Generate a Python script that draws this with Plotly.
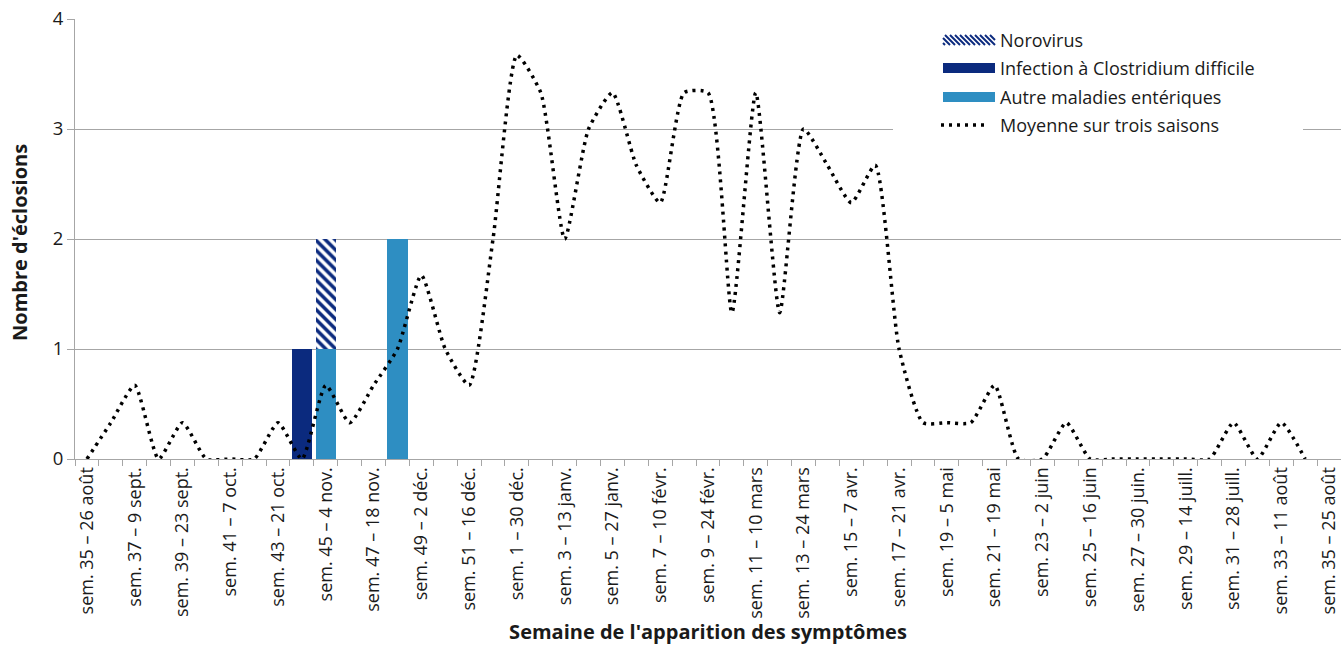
import plotly.graph_objects as go

# Week numbers (53 categories: sem. 35 → sem. 52, then sem. 1 → sem. 35)
weeks = [35, 36, 37, 38, 39, 40, 41, 42, 43, 44, 45, 46, 47, 48, 49, 50, 51, 52,
         1, 2, 3, 4, 5, 6, 7, 8, 9, 10, 11, 12, 13, 14, 15, 16, 17, 18, 19, 20,
         21, 22, 23, 24, 25, 26, 27, 28, 29, 30, 31, 32, 33, 34, 35]

# Visible tick labels (every other week)
tick_labels = ["sem. 35 – 26 août", "sem. 37 – 9 sept.", "sem. 39 – 23 sept.",
               "sem. 41 – 7 oct.", "sem. 43 – 21 oct.", "sem. 45 – 4 nov.",
               "sem. 47 – 18 nov.", "sem. 49 – 2 déc.", "sem. 51 – 16 déc.",
               "sem. 1 – 30 déc.", "sem. 3 – 13 janv.", "sem. 5 – 27 janv.",
               "sem. 7 – 10 févr.", "sem. 9 – 24 févr.", "sem. 11 – 10 mars",
               "sem. 13 – 24 mars", "sem. 15 – 7 avr.", "sem. 17 – 21 avr.",
               "sem. 19 – 5 mai", "sem. 21 – 19 mai", "sem. 23 – 2 juin",
               "sem. 25 – 16 juin", "sem. 27 – 30 juin.", "sem. 29 – 14 juill.",
               "sem. 31 – 28 juill.", "sem. 33 – 11 août", "sem. 35 – 25 août"]

norovirus = [0, 0, 0, 0, 0, 0, 0, 0, 0, 0, 1, 0, 0, 0, 0, 0, 0, 0,
             0, 0, 0, 0, 0, 0, 0, 0, 0, 0, 0, 0, 0, 0, 0, 0, 0, 0, 0, 0,
             0, 0, 0, 0, 0, 0, 0, 0, 0, 0, 0, 0, 0, 0, 0]
clostridium = [0, 0, 0, 0, 0, 0, 0, 0, 0, 1, 0, 0, 0, 0, 0, 0, 0, 0,
               0, 0, 0, 0, 0, 0, 0, 0, 0, 0, 0, 0, 0, 0, 0, 0, 0, 0, 0, 0,
               0, 0, 0, 0, 0, 0, 0, 0, 0, 0, 0, 0, 0, 0, 0]
autres = [0, 0, 0, 0, 0, 0, 0, 0, 0, 0, 1, 0, 0, 2, 0, 0, 0, 0,
          0, 0, 0, 0, 0, 0, 0, 0, 0, 0, 0, 0, 0, 0, 0, 0, 0, 0, 0, 0,
          0, 0, 0, 0, 0, 0, 0, 0, 0, 0, 0, 0, 0, 0, 0]
moyenne = [0, 0.33, 0.67, 0, 0.33, 0, 0, 0, 0.33, 0, 0.67, 0.33, 0.67, 1.0, 1.67,
           1.0, 0.67, 2.0, 3.67, 3.33, 2.0, 3.0, 3.33, 2.67, 2.33, 3.33, 3.33,
           1.33, 3.33, 1.33, 3.0, 2.67, 2.33, 2.67, 1.0, 0.33, 0.33, 0.33, 0.67,
           0, 0, 0.33, 0, 0, 0, 0, 0, 0, 0.33, 0, 0.33, 0, None]

series_names = ["Norovirus", "Infection à Clostridium difficile",
                "Autre maladies entériques", "Moyenne sur trois saisons"]

x = list(range(len(weeks)))
custom = [f"sem. {w}" for w in weeks]

FONT = "Open Sans"
TXT = "#1a1a1a"
NAVY = "#0B2A7E"
LIGHT = "#2E8EC2"
GRID = "#a6a6a6"
W, H = 1341, 645

fig = go.Figure()
fig.add_trace(go.Bar(x=x, y=autres, name=series_names[2],
                     marker=dict(color=LIGHT, line=dict(width=0)), customdata=custom))
fig.add_trace(go.Bar(x=x, y=clostridium, name=series_names[1],
                     marker=dict(color=NAVY, line=dict(width=0)), customdata=custom))
fig.add_trace(go.Bar(x=x, y=norovirus, name=series_names[0],
                     marker=dict(color="white", line=dict(width=0),
                                 pattern=dict(shape="\\", fgcolor=NAVY, bgcolor="white",
                                              size=7, solidity=0.5, fgopacity=1)),
                     customdata=custom))
fig.add_trace(go.Scatter(x=x, y=moyenne, mode="lines", name=series_names[3],
                         line=dict(color="black", width=3.5, dash="3px,5px",
                                   shape="spline", smoothing=0.55),
                         connectgaps=False))

# ---- Manual legend (wide rectangular keys like the original) ----
PW, PH, ML, MT = 1266, 440, 75, 19   # plot area in pixels


def px(xp):
    return (xp - ML) / PW


def py(yp):
    return 1 - (yp - MT) / PH


shapes = []
annotations = []
# white legend background (hides the gridline behind it)
shapes.append(dict(type="rect", xref="paper", yref="paper", layer="above",
                   x0=px(893), x1=px(1303), y0=py(140), y1=py(24),
                   fillcolor="white", line=dict(width=0)))
rows = [40, 68, 97, 125]
kx0, kx1 = 943, 995
# Norovirus key: white rect with diagonal stripes
shapes.append(dict(type="rect", xref="paper", yref="paper", layer="above",
                   x0=px(kx0), x1=px(kx1), y0=py(rows[0] + 5), y1=py(rows[0] - 5),
                   fillcolor="white", line=dict(width=0)))
for sx in range(kx0 - 8, kx1, 5):
    a0, a1 = sx, sx + 10
    ya, yb = rows[0] - 5, rows[0] + 5
    if a0 < kx0:
        ya = ya + (kx0 - a0)
        a0 = kx0
    if a1 > kx1:
        yb = yb - (a1 - kx1)
        a1 = kx1
    shapes.append(dict(type="line", xref="paper", yref="paper", layer="above",
                       x0=px(a0), x1=px(a1), y0=py(ya), y1=py(yb),
                       line=dict(color=NAVY, width=2)))
for r, col in ((rows[1], NAVY), (rows[2], LIGHT)):
    shapes.append(dict(type="rect", xref="paper", yref="paper", layer="above",
                       x0=px(kx0), x1=px(kx1), y0=py(r + 5), y1=py(r - 5),
                       fillcolor=col, line=dict(width=0)))
shapes.append(dict(type="line", xref="paper", yref="paper", layer="above",
                   x0=px(kx0 - 2), x1=px(kx1 - 8), y0=py(rows[3]), y1=py(rows[3]),
                   line=dict(color="black", width=3.5, dash="3px,5px")))
for r, name in zip(rows, series_names):
    annotations.append(dict(text=name, xref="paper", yref="paper", x=px(998), y=py(r),
                            xanchor="left", yanchor="middle", showarrow=False,
                            font=dict(family=FONT, size=18, color=TXT)))

annotations += [
    dict(text="<b>Nombre d'éclosions</b>", xref="paper", yref="paper",
         x=px(20), y=py(243), showarrow=False, textangle=-90,
         xanchor="center", yanchor="middle",
         font=dict(family=FONT, size=20, color=TXT)),
]

fig.update_layout(
    width=W, height=H,
    margin=dict(l=ML, r=0, t=MT, b=H - MT - PH, autoexpand=False),
    paper_bgcolor="white", plot_bgcolor="white",
    barmode="stack", bargap=0.15,
    font=dict(family=FONT, color=TXT),
    showlegend=False,
    xaxis=dict(range=[-0.5, 52.5], tickmode="array", automargin=False,
               tickvals=list(range(0, 53, 2)), ticktext=tick_labels,
               tickangle=-90, ticks="", showgrid=False, zeroline=False,
               showline=True, linecolor=GRID, linewidth=1,
               tickfont=dict(family=FONT, size=18, color=TXT),
               title=dict(text="<b>Semaine de l'apparition des symptômes</b>",
                          font=dict(family=FONT, size=20, color=TXT)),
               minor=dict(tickmode="linear", tick0=-0.5, dtick=1, ticks="outside",
                          ticklen=6, tickcolor=GRID, showgrid=False)),
    yaxis=dict(range=[0, 4], tickvals=[0, 1, 2, 3, 4], ticks="outside", ticklen=7,
               automargin=False, tickcolor=GRID, showgrid=True, gridcolor=GRID,
               gridwidth=1, zeroline=False, showline=True, linecolor=GRID, linewidth=1,
               tickfont=dict(family=FONT, size=18.5, color=TXT)),
    shapes=shapes,
    annotations=annotations,
)

fig.write_html("out.html", config={"displayModeBar": False},
               post_script="document.body.style.margin='0px';"
                           "document.body.style.overflow='hidden';")
